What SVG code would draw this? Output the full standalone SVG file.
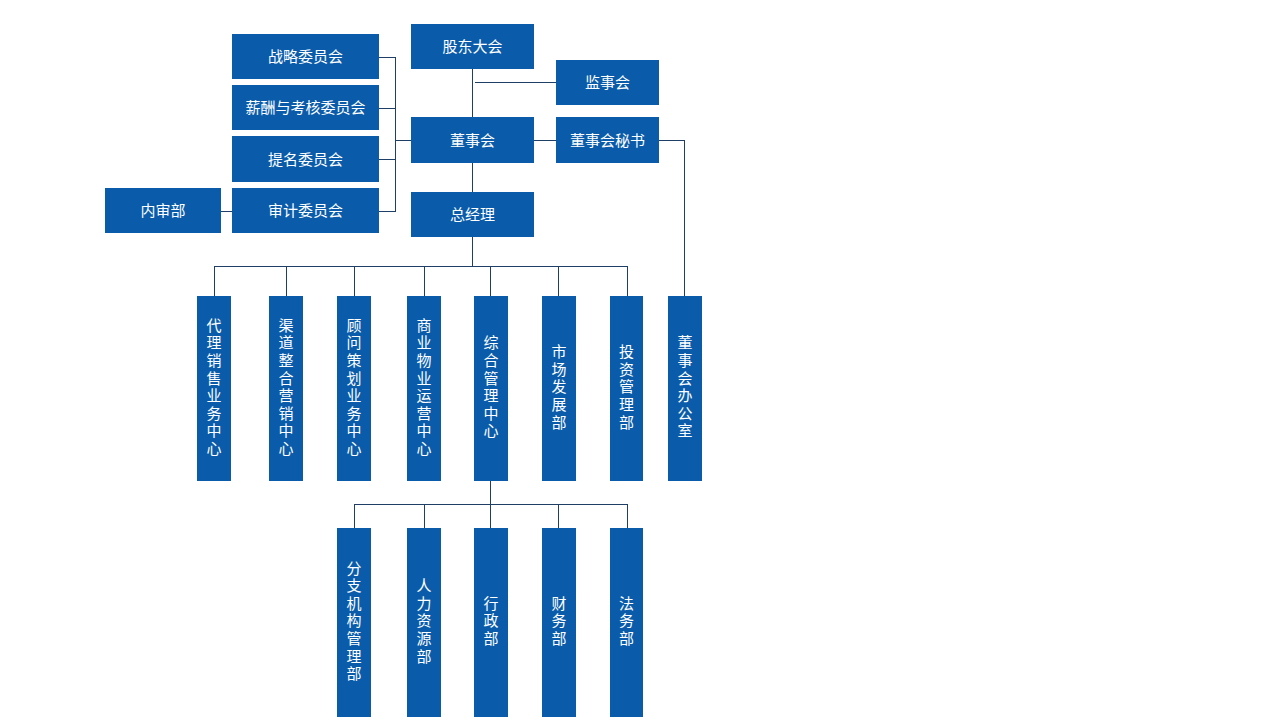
<svg xmlns="http://www.w3.org/2000/svg" width="1280" height="720" viewBox="0 0 1280 720">
<style>
.b{fill:#0A5CAB}
.t{font-family:"Noto Sans CJK SC","Microsoft YaHei",sans-serif;font-size:15px;fill:#fff;text-anchor:middle;dominant-baseline:central}
.v{font-family:"Noto Sans CJK SC","Microsoft YaHei",sans-serif;font-size:15px;fill:#fff;text-anchor:middle;writing-mode:vertical-rl;letter-spacing:2.6px}
.c{stroke:#1F3F66;stroke-width:1;fill:none;shape-rendering:crispEdges}
</style>
<rect width="1280" height="720" fill="#fff"/>
<g id="connectors" class="c">
<path d="M472.5 69V192M475 82.5H556M534 140.5H556M659 140.5H684.5V296"/>
<path d="M379 57.5H395.5M379 108.5H395.5M379 159.5H395.5M379 211.5H395.5M395.5 57V212M395.5 140.5H411M221 211.5H232"/>
<path d="M472.5 237V266M214 266.5H628M214.5 266V296M286.5 266V296M354.5 266V296M424.5 266V296M490.5 266V296M558.5 266V296M627.5 266V296"/>
<path d="M490.5 481V504M354 504.5H628M354.5 504V528M424.5 504V528M490.5 504V528M558.5 504V528M627.5 504V528"/>
</g>
<g id="n-gudong"><rect class="b" x="411" y="24" width="123" height="45"/><text class="t" x="472.5" y="45.5">股东大会</text></g>
<g id="n-jianshi"><rect class="b" x="556" y="60" width="103" height="45"/><text class="t" x="607.5" y="81.5">监事会</text></g>
<g id="n-dongshi"><rect class="b" x="411" y="117" width="123" height="46"/><text class="t" x="472.5" y="139">董事会</text></g>
<g id="n-mishu"><rect class="b" x="556" y="117" width="103" height="46"/><text class="t" x="607.5" y="139">董事会秘书</text></g>
<g id="n-zongjingli"><rect class="b" x="411" y="192" width="123" height="45"/><text class="t" x="472.5" y="213.5">总经理</text></g>
<g id="n-zhanlue"><rect class="b" x="232" y="34" width="147" height="45"/><text class="t" x="305.5" y="55.5">战略委员会</text></g>
<g id="n-xinchou"><rect class="b" x="232" y="85" width="147" height="45"/><text class="t" x="305.5" y="106.5">薪酬与考核委员会</text></g>
<g id="n-timing"><rect class="b" x="232" y="136" width="147" height="46"/><text class="t" x="305.5" y="158">提名委员会</text></g>
<g id="n-shenji"><rect class="b" x="232" y="188" width="147" height="45"/><text class="t" x="305.5" y="209.5">审计委员会</text></g>
<g id="n-neishen"><rect class="b" x="105" y="188" width="116" height="45"/><text class="t" x="163" y="209.5">内审部</text></g>
<g id="n-daili"><rect class="b" x="197" y="296" width="34" height="185"/><text class="v" x="214" y="388">代理销售业务中心</text></g>
<g id="n-qudao"><rect class="b" x="269" y="296" width="34" height="185"/><text class="v" x="286" y="388">渠道整合营销中心</text></g>
<g id="n-guwen"><rect class="b" x="337" y="296" width="34" height="185"/><text class="v" x="354" y="388">顾问策划业务中心</text></g>
<g id="n-shangye"><rect class="b" x="407" y="296" width="34" height="185"/><text class="v" x="424" y="388">商业物业运营中心</text></g>
<g id="n-zonghe"><rect class="b" x="474" y="296" width="34" height="185"/><text class="v" x="491" y="388">综合管理中心</text></g>
<g id="n-shichang"><rect class="b" x="542" y="296" width="34" height="185"/><text class="v" x="559" y="388">市场发展部</text></g>
<g id="n-touzi"><rect class="b" x="610" y="296" width="33" height="185"/><text class="v" x="626.5" y="388">投资管理部</text></g>
<g id="n-bangong"><rect class="b" x="668" y="296" width="34" height="185"/><text class="v" x="685" y="388">董事会办公室</text></g>
<g id="n-fenzhi"><rect class="b" x="337" y="528" width="34" height="189"/><text class="v" x="354" y="622">分支机构管理部</text></g>
<g id="n-renli"><rect class="b" x="407" y="528" width="34" height="189"/><text class="v" x="424" y="622">人力资源部</text></g>
<g id="n-xingzheng"><rect class="b" x="474" y="528" width="34" height="189"/><text class="v" x="491" y="622">行政部</text></g>
<g id="n-caiwu"><rect class="b" x="542" y="528" width="34" height="189"/><text class="v" x="559" y="622">财务部</text></g>
<g id="n-fawu"><rect class="b" x="610" y="528" width="33" height="189"/><text class="v" x="626.5" y="622">法务部</text></g>
</svg>
